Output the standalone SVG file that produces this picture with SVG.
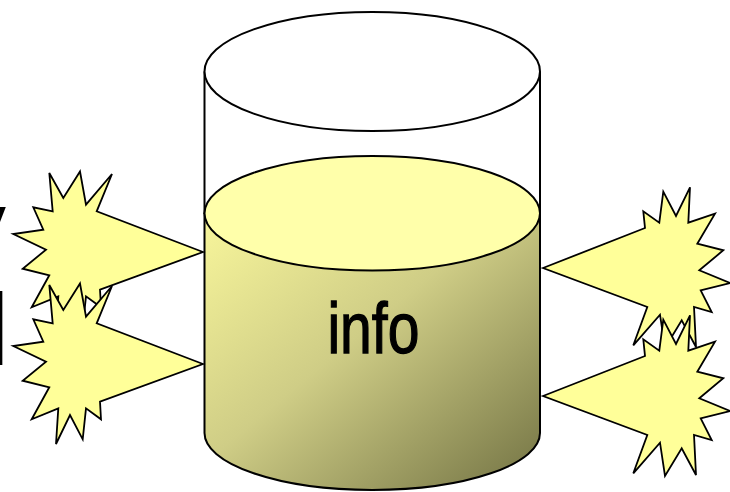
<svg xmlns="http://www.w3.org/2000/svg" xmlns:xlink="http://www.w3.org/1999/xlink" width="730" height="492" viewBox="0 0 730 492">
  <style>
    .outline { stroke: #000; stroke-width: 2; stroke-linejoin: round; }
    .star { fill: #ffff99; stroke: #000; stroke-width: 1.8; stroke-linejoin: miter; }
    .big { font-family: "Liberation Sans", Arial, sans-serif; fill: #000; }
  </style>
  <defs>
    <linearGradient id="bodyGrad" x1="0" y1="0" x2="1" y2="1">
      <stop offset="0" stop-color="#f8f69b"/>
      <stop offset="0.45" stop-color="#cfcd86"/>
      <stop offset="1" stop-color="#727243"/>
    </linearGradient>
    <polygon id="starLeft" points="203,364 96.7,323.3 112,286 86,316.7 80,283.5 63.3,310 49.3,285 52.7,323.3 33.3,319.3 43.3,341.7 13.3,346 46,361.7 22.7,380.7 49.3,387.3 31.7,419.3 58.3,408.3 56,444 70,415 82.7,439.3 86,408.3 101,419.3 100,401.7"/>
    <polygon id="starRight" points="543,396 645,356 643.3,339.3 659.3,350.7 663.3,319.7 676,344 690,315.3 688.3,350.7 715,341.7 697.3,371.7 723.3,378.3 699.3,398.3 730,411 700.7,418.3 711.7,440 694,435 696,475 681.7,448.3 665,476 660,442.7 633.3,473.3 647.3,435"/>
  </defs>

  <g id="edge-text">
    <text class="big" x="6" y="261" font-size="102" text-anchor="end">y</text>
    <text class="big" x="9.2" y="365" font-size="102" text-anchor="end">l</text>
  </g>

  <g id="cylinder">
    <path d="M204.5,71.5 V213 H540 V71.5 Z" fill="#fff" stroke="none"/>
    <line class="outline" x1="204.5" y1="71.5" x2="204.5" y2="214"/>
    <line class="outline" x1="540" y1="71.5" x2="540" y2="214"/>
    <path class="outline" d="M204.5,213.3 V433 A167.75,57 0 0 0 540,433 V213.3 Z" fill="url(#bodyGrad)"/>
    <ellipse class="outline" cx="372.25" cy="213.3" rx="167.75" ry="57.3" fill="#ffffaa"/>
    <ellipse class="outline" cx="372.25" cy="71.5" rx="167.75" ry="59.5" fill="#fff"/>
    <text class="big" x="327.4" y="352.8" font-size="72" textLength="92" lengthAdjust="spacingAndGlyphs" stroke="#000" stroke-width="1.3">info</text>
  </g>

  <g id="connectors">
    <g id="burst-left-1"><use xlink:href="#starLeft" href="#starLeft" class="star" transform="translate(0,-112)"/></g>
    <g id="burst-left-2"><use xlink:href="#starLeft" href="#starLeft" class="star"/></g>
    <g id="burst-right-1"><use xlink:href="#starRight" href="#starRight" class="star" transform="translate(0,-128)"/></g>
    <g id="burst-right-2"><use xlink:href="#starRight" href="#starRight" class="star"/></g>
  </g>
</svg>
